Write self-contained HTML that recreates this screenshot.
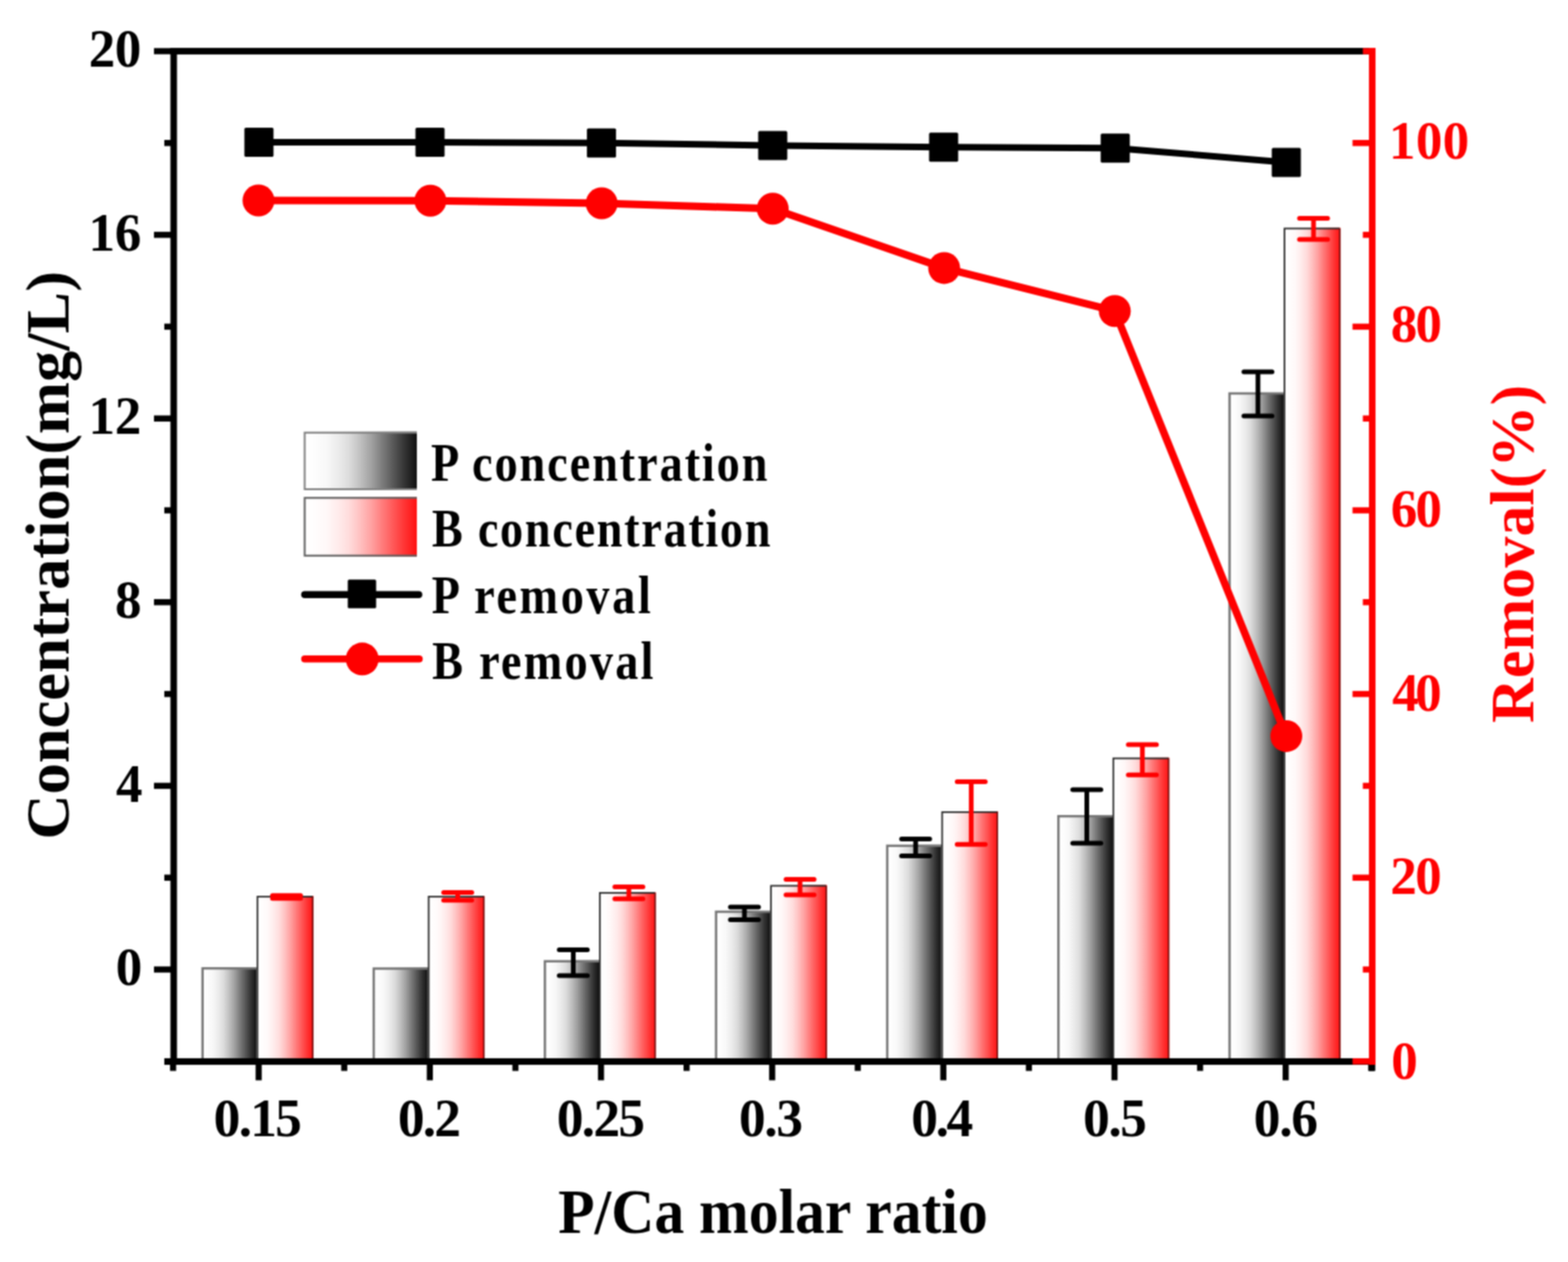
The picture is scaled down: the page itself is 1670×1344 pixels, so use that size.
<!DOCTYPE html>
<html><head><meta charset="utf-8"><title>P/Ca molar ratio chart</title>
<style>html,body{margin:0;padding:0;background:#fff;}body{width:1670px;height:1344px;overflow:hidden;}svg{display:block;}</style>
</head><body><div>
<svg width="1670" height="1344" viewBox="0 0 1670 1344">
<defs>
<filter id="soft" x="0" y="0" width="1670" height="1344" filterUnits="userSpaceOnUse" color-interpolation-filters="sRGB"><feConvolveMatrix order="3" kernelMatrix="1 2 1 2 4 2 1 2 1" divisor="16" edgeMode="duplicate"/></filter>
<linearGradient id="gk" x1="0" y1="0" x2="1" y2="0"><stop offset="0" stop-color="#ffffff"/><stop offset="0.1" stop-color="#fdfdfd"/><stop offset="0.2" stop-color="#f8f8f8"/><stop offset="0.3" stop-color="#ececec"/><stop offset="0.4" stop-color="#dcdcdc"/><stop offset="0.5" stop-color="#c0c0c0"/><stop offset="0.6" stop-color="#a0a0a0"/><stop offset="0.7" stop-color="#7a7a7a"/><stop offset="0.8" stop-color="#555555"/><stop offset="0.9" stop-color="#303030"/><stop offset="1.0" stop-color="#111111"/></linearGradient>
<linearGradient id="gr" x1="0" y1="0" x2="1" y2="0"><stop offset="0" stop-color="#ffffff"/><stop offset="0.1" stop-color="#fffdfd"/><stop offset="0.2" stop-color="#fff8f8"/><stop offset="0.3" stop-color="#ffecec"/><stop offset="0.4" stop-color="#ffdcdc"/><stop offset="0.5" stop-color="#ffc0c0"/><stop offset="0.6" stop-color="#ffa0a0"/><stop offset="0.7" stop-color="#ff7a7a"/><stop offset="0.8" stop-color="#ff5555"/><stop offset="0.9" stop-color="#ff3030"/><stop offset="1.0" stop-color="#ff1111"/></linearGradient>
</defs>
<g filter="url(#soft)"><rect width="1670" height="1344" fill="#ffffff"/>
<rect x="214.50" y="1030.20" width="59.00" height="100.30" fill="url(#gk)"/>
<rect x="273.50" y="954.00" width="60.30" height="176.50" fill="url(#gr)"/>
<path d="M215.75 1130.5V1031.20H273.50" fill="none" stroke="#767676" stroke-width="2.5"/>
<path d="M274.25 1130.5V954.75H333.05" fill="none" stroke="#2a2a2a" stroke-width="1.75"/>
<path d="M333.05 954.75V1130.5" fill="none" stroke="#6a1010" stroke-width="1.5"/>
<rect x="396.80" y="1030.50" width="59.00" height="100.00" fill="url(#gk)"/>
<rect x="455.80" y="954.00" width="60.30" height="176.50" fill="url(#gr)"/>
<path d="M398.05 1130.5V1031.50H455.80" fill="none" stroke="#767676" stroke-width="2.5"/>
<path d="M456.55 1130.5V954.75H515.35" fill="none" stroke="#2a2a2a" stroke-width="1.75"/>
<path d="M515.35 954.75V1130.5" fill="none" stroke="#6a1010" stroke-width="1.5"/>
<rect x="579.10" y="1022.80" width="59.00" height="107.70" fill="url(#gk)"/>
<rect x="638.10" y="950.10" width="60.30" height="180.40" fill="url(#gr)"/>
<path d="M580.35 1130.5V1023.80H638.10" fill="none" stroke="#767676" stroke-width="2.5"/>
<path d="M638.85 1130.5V950.85H697.65" fill="none" stroke="#2a2a2a" stroke-width="1.75"/>
<path d="M697.65 950.85V1130.5" fill="none" stroke="#6a1010" stroke-width="1.5"/>
<rect x="761.40" y="970.00" width="59.00" height="160.50" fill="url(#gk)"/>
<rect x="820.40" y="942.50" width="60.30" height="188.00" fill="url(#gr)"/>
<path d="M762.65 1130.5V971.00H820.40" fill="none" stroke="#767676" stroke-width="2.5"/>
<path d="M821.15 1130.5V943.25H879.95" fill="none" stroke="#2a2a2a" stroke-width="1.75"/>
<path d="M879.95 943.25V1130.5" fill="none" stroke="#6a1010" stroke-width="1.5"/>
<rect x="943.70" y="899.80" width="59.00" height="230.70" fill="url(#gk)"/>
<rect x="1002.70" y="864.10" width="60.30" height="266.40" fill="url(#gr)"/>
<path d="M944.95 1130.5V900.80H1002.70" fill="none" stroke="#767676" stroke-width="2.5"/>
<path d="M1003.45 1130.5V864.85H1062.25" fill="none" stroke="#2a2a2a" stroke-width="1.75"/>
<path d="M1062.25 864.85V1130.5" fill="none" stroke="#6a1010" stroke-width="1.5"/>
<rect x="1126.00" y="868.20" width="59.00" height="262.30" fill="url(#gk)"/>
<rect x="1185.00" y="806.80" width="60.30" height="323.70" fill="url(#gr)"/>
<path d="M1127.25 1130.5V869.20H1185.00" fill="none" stroke="#767676" stroke-width="2.5"/>
<path d="M1185.75 1130.5V807.55H1244.55" fill="none" stroke="#2a2a2a" stroke-width="1.75"/>
<path d="M1244.55 807.55V1130.5" fill="none" stroke="#6a1010" stroke-width="1.5"/>
<rect x="1308.30" y="418.00" width="59.00" height="712.50" fill="url(#gk)"/>
<rect x="1367.30" y="242.60" width="60.30" height="887.90" fill="url(#gr)"/>
<path d="M1309.55 1130.5V419.00H1367.30" fill="none" stroke="#767676" stroke-width="2.5"/>
<path d="M1368.05 1130.5V243.35H1426.85" fill="none" stroke="#2a2a2a" stroke-width="1.75"/>
<path d="M1426.85 243.35V1130.5" fill="none" stroke="#6a1010" stroke-width="1.5"/>
<g stroke="#ff0000" stroke-width="5" stroke-linecap="round" fill="none"><path d="M305.20 953.80V956.80M290.20 953.80H320.20M290.20 956.80H320.20"/></g>
<g stroke="#ff0000" stroke-width="5" stroke-linecap="round" fill="none"><path d="M487.50 950.50V958.70M472.50 950.50H502.50M472.50 958.70H502.50"/></g>
<g stroke="#000" stroke-width="5" stroke-linecap="round" fill="none"><path d="M610.60 1011.60V1039.00M595.60 1011.60H625.60M595.60 1039.00H625.60"/></g>
<g stroke="#ff0000" stroke-width="5" stroke-linecap="round" fill="none"><path d="M669.80 944.40V957.30M654.80 944.40H684.80M654.80 957.30H684.80"/></g>
<g stroke="#000" stroke-width="5" stroke-linecap="round" fill="none"><path d="M792.90 966.00V979.60M777.90 966.00H807.90M777.90 979.60H807.90"/></g>
<g stroke="#ff0000" stroke-width="5" stroke-linecap="round" fill="none"><path d="M852.10 936.40V953.10M837.10 936.40H867.10M837.10 953.10H867.10"/></g>
<g stroke="#000" stroke-width="5" stroke-linecap="round" fill="none"><path d="M975.20 893.60V911.60M960.20 893.60H990.20M960.20 911.60H990.20"/></g>
<g stroke="#ff0000" stroke-width="5" stroke-linecap="round" fill="none"><path d="M1034.40 832.60V899.30M1019.40 832.60H1049.40M1019.40 899.30H1049.40"/></g>
<g stroke="#000" stroke-width="5" stroke-linecap="round" fill="none"><path d="M1157.50 841.10V898.10M1142.50 841.10H1172.50M1142.50 898.10H1172.50"/></g>
<g stroke="#ff0000" stroke-width="5" stroke-linecap="round" fill="none"><path d="M1216.70 792.90V825.20M1201.70 792.90H1231.70M1201.70 825.20H1231.70"/></g>
<g stroke="#000" stroke-width="5" stroke-linecap="round" fill="none"><path d="M1339.80 396.00V443.00M1324.80 396.00H1354.80M1324.80 443.00H1354.80"/></g>
<g stroke="#ff0000" stroke-width="5" stroke-linecap="round" fill="none"><path d="M1399.00 232.40V255.00M1384.00 232.40H1414.00M1384.00 255.00H1414.00"/></g>
<g stroke="#000" fill="none">
<line x1="185.0" y1="51.0" x2="185.0" y2="1134.0" stroke-width="7"/>
<line x1="181.5" y1="54.5" x2="1461.5" y2="54.5" stroke-width="7"/>
<line x1="175.0" y1="1130.5" x2="1465.0" y2="1130.5" stroke-width="7"/>
<line x1="175.0" y1="1130.30" x2="185.0" y2="1130.30" stroke-width="6.5"/>
<line x1="164.0" y1="1032.50" x2="185.0" y2="1032.50" stroke-width="6.5"/>
<line x1="175.0" y1="934.70" x2="185.0" y2="934.70" stroke-width="6.5"/>
<line x1="164.0" y1="836.90" x2="185.0" y2="836.90" stroke-width="6.5"/>
<line x1="175.0" y1="739.10" x2="185.0" y2="739.10" stroke-width="6.5"/>
<line x1="164.0" y1="641.30" x2="185.0" y2="641.30" stroke-width="6.5"/>
<line x1="175.0" y1="543.50" x2="185.0" y2="543.50" stroke-width="6.5"/>
<line x1="164.0" y1="445.70" x2="185.0" y2="445.70" stroke-width="6.5"/>
<line x1="175.0" y1="347.90" x2="185.0" y2="347.90" stroke-width="6.5"/>
<line x1="164.0" y1="250.10" x2="185.0" y2="250.10" stroke-width="6.5"/>
<line x1="175.0" y1="152.30" x2="185.0" y2="152.30" stroke-width="6.5"/>
<line x1="164.0" y1="54.50" x2="185.0" y2="54.50" stroke-width="6.5"/>
<line x1="275.50" y1="1130.5" x2="275.50" y2="1150.5" stroke-width="6.5"/>
<line x1="457.80" y1="1130.5" x2="457.80" y2="1150.5" stroke-width="6.5"/>
<line x1="640.10" y1="1130.5" x2="640.10" y2="1150.5" stroke-width="6.5"/>
<line x1="822.40" y1="1130.5" x2="822.40" y2="1150.5" stroke-width="6.5"/>
<line x1="1004.70" y1="1130.5" x2="1004.70" y2="1150.5" stroke-width="6.5"/>
<line x1="1187.00" y1="1130.5" x2="1187.00" y2="1150.5" stroke-width="6.5"/>
<line x1="1369.30" y1="1130.5" x2="1369.30" y2="1150.5" stroke-width="6.5"/>
<line x1="184.35" y1="1130.5" x2="184.35" y2="1140.5" stroke-width="6.5"/>
<line x1="366.65" y1="1130.5" x2="366.65" y2="1140.5" stroke-width="6.5"/>
<line x1="548.95" y1="1130.5" x2="548.95" y2="1140.5" stroke-width="6.5"/>
<line x1="731.25" y1="1130.5" x2="731.25" y2="1140.5" stroke-width="6.5"/>
<line x1="913.55" y1="1130.5" x2="913.55" y2="1140.5" stroke-width="6.5"/>
<line x1="1095.85" y1="1130.5" x2="1095.85" y2="1140.5" stroke-width="6.5"/>
<line x1="1278.15" y1="1130.5" x2="1278.15" y2="1140.5" stroke-width="6.5"/>
<line x1="1460.45" y1="1130.5" x2="1460.45" y2="1140.5" stroke-width="6.5"/>
</g>
<g stroke="#ff0000" fill="none">
<line x1="1461.5" y1="51.0" x2="1461.5" y2="1134.0" stroke-width="7"/>
<line x1="1440.5" y1="1130.30" x2="1461.5" y2="1130.30" stroke-width="6.5"/>
<line x1="1451.5" y1="1032.50" x2="1461.5" y2="1032.50" stroke-width="6.5"/>
<line x1="1440.5" y1="934.70" x2="1461.5" y2="934.70" stroke-width="6.5"/>
<line x1="1451.5" y1="836.90" x2="1461.5" y2="836.90" stroke-width="6.5"/>
<line x1="1440.5" y1="739.10" x2="1461.5" y2="739.10" stroke-width="6.5"/>
<line x1="1451.5" y1="641.30" x2="1461.5" y2="641.30" stroke-width="6.5"/>
<line x1="1440.5" y1="543.50" x2="1461.5" y2="543.50" stroke-width="6.5"/>
<line x1="1451.5" y1="445.70" x2="1461.5" y2="445.70" stroke-width="6.5"/>
<line x1="1440.5" y1="347.90" x2="1461.5" y2="347.90" stroke-width="6.5"/>
<line x1="1451.5" y1="250.10" x2="1461.5" y2="250.10" stroke-width="6.5"/>
<line x1="1440.5" y1="152.30" x2="1461.5" y2="152.30" stroke-width="6.5"/>
<line x1="1451.5" y1="54.50" x2="1461.5" y2="54.50" stroke-width="6.5"/>
</g>
<line x1="1461.5" y1="1134.0" x2="1461.5" y2="1140.5" stroke="#000" stroke-width="6.5"/>
<polyline points="275.8,151.4 458,151.5 640.6,152.2 823,154.9 1005,156.7 1187.8,157.7 1370,173" fill="none" stroke="#000" stroke-width="7" stroke-linejoin="round"/>
<rect x="260.30" y="135.90" width="31" height="31" rx="1.5" fill="#000"/>
<rect x="442.50" y="136.00" width="31" height="31" rx="1.5" fill="#000"/>
<rect x="625.10" y="136.70" width="31" height="31" rx="1.5" fill="#000"/>
<rect x="807.50" y="139.40" width="31" height="31" rx="1.5" fill="#000"/>
<rect x="989.50" y="141.20" width="31" height="31" rx="1.5" fill="#000"/>
<rect x="1172.30" y="142.20" width="31" height="31" rx="1.5" fill="#000"/>
<rect x="1354.50" y="157.50" width="31" height="31" rx="1.5" fill="#000"/>
<polyline points="275.3,213.5 458.4,213.7 640.8,216.5 823,222.2 1005.6,285.4 1187.3,331.2 1370,783.9" fill="none" stroke="#ff0000" stroke-width="8" stroke-linejoin="round"/>
<circle cx="275.3" cy="213.5" r="17" fill="#ff0000"/>
<circle cx="458.4" cy="213.7" r="17" fill="#ff0000"/>
<circle cx="640.8" cy="216.5" r="17" fill="#ff0000"/>
<circle cx="823" cy="222.2" r="17" fill="#ff0000"/>
<circle cx="1005.6" cy="285.4" r="17" fill="#ff0000"/>
<circle cx="1187.3" cy="331.2" r="17" fill="#ff0000"/>
<circle cx="1370" cy="783.9" r="17" fill="#ff0000"/>
<rect x="323.5" y="459.7" width="120.5" height="62.3" fill="url(#gk)"/>
<path d="M444 460.7H324.5V521H444" fill="none" stroke="#808080" stroke-width="2"/>
<rect x="323.5" y="529.3" width="120.5" height="63.5" fill="url(#gr)"/>
<path d="M444 530.3H324.5V591.8H444" fill="none" stroke="#606060" stroke-width="2"/>
<line x1="324.5" y1="633.2" x2="446" y2="633.2" stroke="#000" stroke-width="7.5" stroke-linecap="round"/>
<rect x="370.4" y="617.2" width="30.2" height="30.5" rx="1.5" fill="#000"/>
<line x1="324.5" y1="701.7" x2="446.5" y2="701.7" stroke="#ff0000" stroke-width="7.5" stroke-linecap="round"/>
<circle cx="385.8" cy="701.8" r="17.5" fill="#ff0000"/>
<text x="94.50" y="71.00" font-size="56.5" text-anchor="start" fill="#000" font-family="'Liberation Serif','Times New Roman',serif" font-weight="bold" textLength="55.99" lengthAdjust="spacing">20</text>
<text x="94.21" y="267.10" font-size="56.5" text-anchor="start" fill="#000" font-family="'Liberation Serif','Times New Roman',serif" font-weight="bold" textLength="56.19" lengthAdjust="spacing">16</text>
<text x="94.21" y="462.10" font-size="56.5" text-anchor="start" fill="#000" font-family="'Liberation Serif','Times New Roman',serif" font-weight="bold" textLength="56.19" lengthAdjust="spacing">12</text>
<text x="122.50" y="657.60" font-size="56.5" text-anchor="start" fill="#000" font-family="'Liberation Serif','Times New Roman',serif" font-weight="bold" >8</text>
<text x="123.50" y="854.05" font-size="56.5" text-anchor="start" fill="#000" font-family="'Liberation Serif','Times New Roman',serif" font-weight="bold" >4</text>
<text x="123.31" y="1049.10" font-size="56.5" text-anchor="start" fill="#000" font-family="'Liberation Serif','Times New Roman',serif" font-weight="bold" >0</text>
<text x="1479.31" y="168.50" font-size="56.5" text-anchor="start" fill="#ff0000" font-family="'Liberation Serif','Times New Roman',serif" font-weight="bold" textLength="85.39" lengthAdjust="spacing">100</text>
<text x="1481.31" y="364.00" font-size="56.5" text-anchor="start" fill="#ff0000" font-family="'Liberation Serif','Times New Roman',serif" font-weight="bold" textLength="54.39" lengthAdjust="spacing">80</text>
<text x="1481.31" y="560.50" font-size="56.5" text-anchor="start" fill="#ff0000" font-family="'Liberation Serif','Times New Roman',serif" font-weight="bold" textLength="54.39" lengthAdjust="spacing">60</text>
<text x="1482.81" y="756.80" font-size="56.5" text-anchor="start" fill="#ff0000" font-family="'Liberation Serif','Times New Roman',serif" font-weight="bold" textLength="52.59" lengthAdjust="spacing">40</text>
<text x="1480.81" y="952.40" font-size="56.5" text-anchor="start" fill="#ff0000" font-family="'Liberation Serif','Times New Roman',serif" font-weight="bold" textLength="54.59" lengthAdjust="spacing">20</text>
<text x="1481.81" y="1149.10" font-size="56.5" text-anchor="start" fill="#ff0000" font-family="'Liberation Serif','Times New Roman',serif" font-weight="bold" >0</text>
<text x="227.59" y="1209.70" font-size="57" text-anchor="start" fill="#000" font-family="'Liberation Serif','Times New Roman',serif" font-weight="bold" textLength="94.02" lengthAdjust="spacing">0.15</text>
<text x="423.69" y="1209.70" font-size="57" text-anchor="start" fill="#000" font-family="'Liberation Serif','Times New Roman',serif" font-weight="bold" textLength="67.22" lengthAdjust="spacing">0.2</text>
<text x="592.89" y="1210.30" font-size="57" text-anchor="start" fill="#000" font-family="'Liberation Serif','Times New Roman',serif" font-weight="bold" textLength="94.22" lengthAdjust="spacing">0.25</text>
<text x="787.09" y="1210.30" font-size="57" text-anchor="start" fill="#000" font-family="'Liberation Serif','Times New Roman',serif" font-weight="bold" textLength="68.22" lengthAdjust="spacing">0.3</text>
<text x="970.59" y="1209.70" font-size="57" text-anchor="start" fill="#000" font-family="'Liberation Serif','Times New Roman',serif" font-weight="bold" textLength="66.02" lengthAdjust="spacing">0.4</text>
<text x="1153.39" y="1209.70" font-size="57" text-anchor="start" fill="#000" font-family="'Liberation Serif','Times New Roman',serif" font-weight="bold" textLength="68.22" lengthAdjust="spacing">0.5</text>
<text x="1335.19" y="1209.70" font-size="57" text-anchor="start" fill="#000" font-family="'Liberation Serif','Times New Roman',serif" font-weight="bold" textLength="68.62" lengthAdjust="spacing">0.6</text>
<text x="594.59" y="1313.30" font-size="67" text-anchor="start" fill="#000" font-family="'Liberation Serif','Times New Roman',serif" font-weight="bold" textLength="457.42" lengthAdjust="spacingAndGlyphs">P/Ca molar ratio</text>
<g transform="translate(72.50,893.90) rotate(-90)"><text x="0" y="0" font-size="66.5" text-anchor="start" fill="#000" font-family="'Liberation Serif','Times New Roman',serif" font-weight="bold" textLength="605.19" lengthAdjust="spacingAndGlyphs">Concentration(mg/L)</text></g>
<g transform="translate(1632.70,770.00) rotate(-90)"><text x="0" y="0" font-size="66.5" text-anchor="start" fill="#ff0000" font-family="'Liberation Serif','Times New Roman',serif" font-weight="bold" textLength="360.19" lengthAdjust="spacingAndGlyphs">Removal(%)</text></g>
<g transform="translate(458.99,511.60) scale(0.88,1)"><text x="0" y="0" font-size="56" text-anchor="start" fill="#000" font-family="'Liberation Serif','Times New Roman',serif" font-weight="bold" textLength="407.30" lengthAdjust="spacing">P concentration</text></g>
<g transform="translate(460.09,582.40) scale(0.88,1)"><text x="0" y="0" font-size="56" text-anchor="start" fill="#000" font-family="'Liberation Serif','Times New Roman',serif" font-weight="bold" textLength="409.80" lengthAdjust="spacing">B concentration</text></g>
<g transform="translate(459.69,652.60) scale(0.88,1)"><text x="0" y="0" font-size="56" text-anchor="start" fill="#000" font-family="'Liberation Serif','Times New Roman',serif" font-weight="bold" textLength="265.25" lengthAdjust="spacing">P removal</text></g>
<g transform="translate(460.19,722.80) scale(0.88,1)"><text x="0" y="0" font-size="56" text-anchor="start" fill="#000" font-family="'Liberation Serif','Times New Roman',serif" font-weight="bold" textLength="267.98" lengthAdjust="spacing">B removal</text></g>
</g></svg>
</div></body></html>
